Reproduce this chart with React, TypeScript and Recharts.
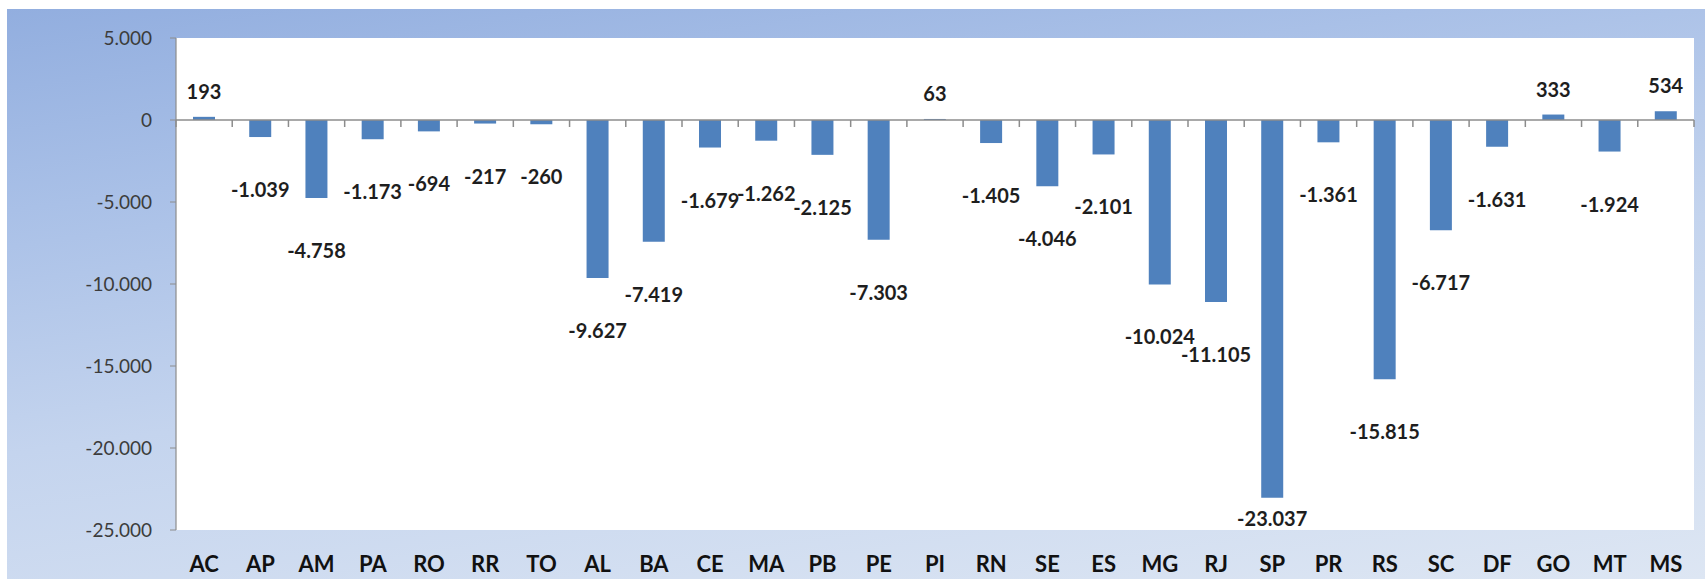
import { BarChart, Bar, XAxis, YAxis, CartesianGrid, ReferenceLine, LabelList } from "recharts"

const states = [
  "AC", "AP", "AM", "PA", "RO", "RR", "TO", "AL", "BA", "CE", "MA", "PB", "PE", "PI",
  "RN", "SE", "ES", "MG", "RJ", "SP", "PR", "RS", "SC", "DF", "GO", "MT", "MS",
]

const saldo = [
  193, -1039, -4758, -1173, -694, -217, -260, -9627, -7419, -1679, -1262, -2125, -7303, 63,
  -1405, -4046, -2101, -10024, -11105, -23037, -1361, -15815, -6717, -1631, 333, -1924, 534,
]

const yTicks = [5000, 0, -5000, -10000, -15000, -20000, -25000]
const Y_MIN = -25000
const Y_MAX = 5000

const data = states.map((uf, i) => ({ uf, saldo: saldo[i] }))

const fmt = (n: number) => {
  const s = Math.abs(n).toString().replace(/\B(?=(\d{3})+(?!\d))/g, ".")
  return n < 0 ? "-" + s : s
}

const AXIS = "#8c8c8c"
const W = 1698
const H = 570
const M = { top: 29, right: 11, left: 0, bottom: 9 }
const Y_W = 169
const X_H = 40
const STEP = (W - M.right - Y_W) / states.length
const PLOT_H = H - M.top - M.bottom - X_H
const ZERO_Y = M.top + (PLOT_H * Y_MAX) / (Y_MAX - Y_MIN)

function ValueLabel(props: any) {
  const { x, y, width, height, value } = props
  if (value == null) return null
  const v = Number(value)
  const h = Number(height) || 0
  const end = v < 0 ? Math.max(y, y + h) : Math.min(y, y + h)
  const ly = v < 0 ? Math.min(end + 52, 509) : end - 26
  return (
    <text x={x + width / 2} y={ly} textAnchor="middle" dominantBaseline="central"
      fontSize={20} fontWeight={700} fill="#1e1e1e">
      {fmt(v)}
    </text>
  )
}

// category label at the bottom, plus the small tick marks under the zero line
function StateTick(props: any) {
  const { x, y, payload, index } = props
  const left = x - STEP / 2
  return (
    <g>
      <path d={`M${left},${ZERO_Y}v7`} stroke={AXIS} strokeWidth={1.5} fill="none" />
      {index === states.length - 1 && (
        <path d={`M${left + STEP},${ZERO_Y}v7`} stroke={AXIS} strokeWidth={1.5} fill="none" />
      )}
      <text x={x} y={y + 33} textAnchor="middle" dominantBaseline="central"
        fontSize={22} fontWeight={700} fill="#111">
        {payload.value}
      </text>
    </g>
  )
}

export default function App() {
  return (
    <>
      <style>{"body{margin:0;overflow:hidden}"}</style>
      <div
        style={{
          position: "absolute",
          left: 7,
          top: 9,
          width: W,
          height: H,
          fontFamily: "Lato, 'Open Sans', sans-serif",
          background: "linear-gradient(172deg, #92aedf 0%, #a9c0e7 25%, #c4d4ee 55%, #dde6f3 100%)",
        }}
      >
        <BarChart width={W} height={H} data={data} margin={M}>
          <CartesianGrid horizontal={false} vertical={false} fill="#ffffff" stroke="none" />
          <XAxis dataKey="uf" interval={0} axisLine={false} tickLine={false} tickSize={0} tickMargin={0}
            height={X_H} tick={<StateTick />} />
          <YAxis domain={[Y_MIN, Y_MAX]} ticks={yTicks} tickFormatter={fmt} width={Y_W}
            axisLine={{ stroke: AXIS, strokeWidth: 1.2 }} tickLine={{ stroke: AXIS }} tickSize={6} tickMargin={18}
            tick={{ fill: "#3c3c3c", fontSize: 19 }} allowDataOverflow />
          <ReferenceLine y={0} stroke={AXIS} strokeWidth={1.5} />
          <Bar dataKey="saldo" fill="#4f81bd" barSize={22} isAnimationActive={false}>
            <LabelList dataKey="saldo" content={<ValueLabel />} />
          </Bar>
        </BarChart>
      </div>
    </>
  )
}
